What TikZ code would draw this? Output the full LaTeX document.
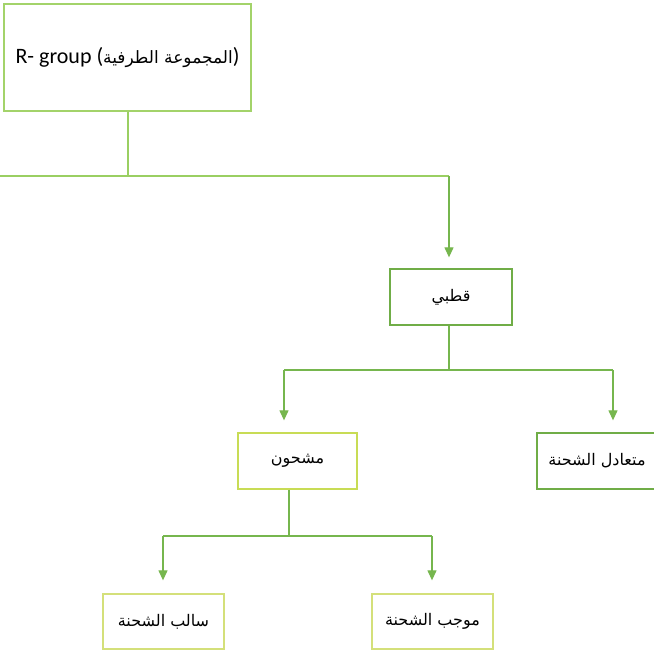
\documentclass[tikz,border=0pt]{standalone}
\usepackage{fontspec}
\setmainfont{Carlito}
\newfontfamily\arabicfont[Script=Arabic]{DejaVu Sans}
\TeXXeTstate=1
\usetikzlibrary{arrows.meta}
\newcommand{\artext}[1]{{\arabicfont\beginR #1\endR}}
\definecolor{boxgreen}{HTML}{70AD47}
\definecolor{topgreen}{HTML}{A3D36A}
\definecolor{limegreen}{HTML}{C8DC55}
\definecolor{palelime}{HTML}{D4E07A}
\definecolor{linegreen}{HTML}{76B64E}
\definecolor{lightline}{HTML}{9ACF62}

\begin{document}
\begin{tikzpicture}[x=1pt,y=-1pt,
    box/.style={draw, line width=1.3pt, fill=white, inner sep=0pt, align=center, font=\fontsize{16}{19}\selectfont},
    conn/.style={linegreen, line width=1.2pt},
    arr/.style={conn, -{Triangle[width=9pt,length=10pt]}}]

\useasboundingbox (0,0) rectangle (654,650);

\node[box, draw=topgreen, minimum width=247pt, minimum height=107pt, font=\fontsize{22}{25}\selectfont] (rgroup) at (127.5,57.5) {R- group (\artext{\fontsize{17}{20}\selectfont المجموعة الطرفية})};
\node[box, draw=boxgreen, minimum width=122pt, minimum height=56pt] (qutbi) at (451,297) {\artext{قطبي}};
\node[box, draw=limegreen, minimum width=119pt, minimum height=56pt] (charged) at (297.5,461) {\artext{مشحون}};
\node[box, draw=boxgreen, minimum width=120pt, minimum height=56pt] (neutral) at (597,461) {\artext{متعادل الشحنة}};
\node[box, draw=palelime, minimum width=121pt, minimum height=55pt] (negative) at (163.5,621.5) {\artext{سالب الشحنة}};
\node[box, draw=palelime, minimum width=121pt, minimum height=55pt] (positive) at (432.5,621.5) {\artext{موجب الشحنة}};

\coordinate (left) at (0,176);
\coordinate (split1) at (128,176);
\coordinate (turn1) at (449,176);
\coordinate (split2) at (449,370);
\coordinate (turn2l) at (284,370);
\coordinate (turn2r) at (613,370);
\coordinate (split3) at (289,536);
\coordinate (turn3l) at (163,536);
\coordinate (turn3r) at (432,536);

\draw[conn, lightline] (split1 |- rgroup.south) -- (split1);
\draw[conn, lightline] (left) -- (split1) -- (turn1);
\draw[arr, shorten >=11pt] (turn1) -- (turn1 |- qutbi.north);

\draw[conn] (split2 |- qutbi.south) -- (split2);
\draw[conn] (turn2l) -- (turn2r);
\draw[arr, shorten >=12pt] (turn2l) -- (turn2l |- charged.north);
\draw[arr, shorten >=12pt] (turn2r) -- (turn2r |- neutral.north);

\draw[conn] (split3 |- charged.south) -- (split3);
\draw[conn] (turn3l) -- (turn3r);
\draw[arr, shorten >=13pt] (turn3l) -- (turn3l |- negative.north);
\draw[arr, shorten >=13pt] (turn3r) -- (turn3r |- positive.north);

\end{tikzpicture}
\end{document}
